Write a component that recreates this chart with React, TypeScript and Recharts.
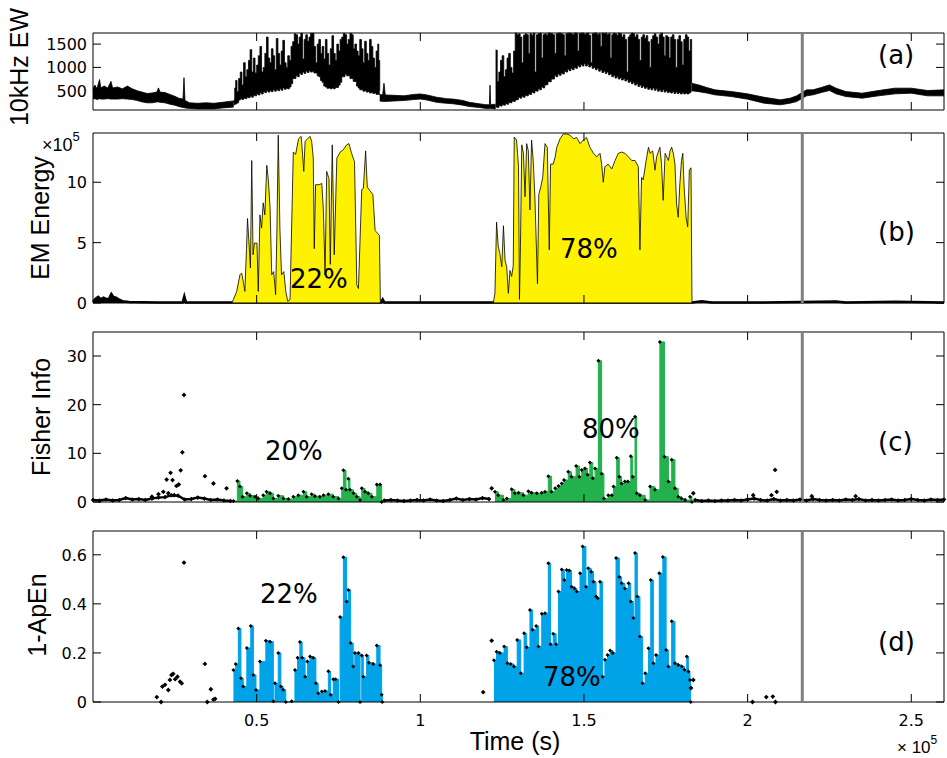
import React from 'react';
import { ComposedChart, Area, Line, XAxis, YAxis, ReferenceLine, ReferenceArea } from 'recharts';

// time is in units of 1e5 s, like the figure's axis
const W = 947;
const H = 758;
const PLOT_L = 93;
const PLOT_R = 944;
const Y_AXIS_W = 60;
const X_AXIS_H = 20;
const TICK = 8;
const NUM_FONT = '"DejaVu Sans", sans-serif';
const TITLE_FONT = '"Liberation Sans", Arial, sans-serif';

const YELLOW = '#fff200';
const GREEN = '#22b14c';
const BLUE = '#00a2e8';
const GRAY = '#7f7f7f';

const T_MAX = 2.6;
const X_TICKS = [0.5, 1, 1.5, 2, 2.5];
const MARKER_T = 2.167;

const EW_TICKS = [500, 1000, 1500];
const EM_TICKS = [0, 5, 10];
const FI_TICKS = [0, 10, 20, 30];
const AP_TICKS = [0, 0.2, 0.4, 0.6];

const TITLES = ['10kHz EW', 'EM Energy', 'Fisher Info', '1-ApEn'];
const TAGS = ['(a)', '(b)', '(c)', '(d)'];
const EM_SHARES = ['22%', '78%'];
const FI_SHARES = ['20%', '80%'];
const AP_SHARES = ['22%', '78%'];

// (a) 10 kHz EW signal, envelope [t, low, high]
const ewQuiet1: [number, number, number][] = [
  [0.000, 320, 550], [0.006, 330, 620], [0.012, 310, 540], [0.020, 330, 740], [0.024, 320, 560],
  [0.034, 320, 600], [0.045, 330, 560], [0.055, 320, 700], [0.060, 320, 560], [0.075, 320, 580],
  [0.090, 330, 540], [0.105, 320, 600], [0.120, 310, 540], [0.135, 290, 500], [0.150, 260, 470],
  [0.165, 240, 440], [0.180, 240, 450], [0.195, 260, 470], [0.200, 260, 560], [0.205, 250, 470],
  [0.220, 240, 460], [0.235, 210, 420], [0.250, 190, 380], [0.262, 160, 340], [0.275, 140, 320],
  [0.278, 140, 780], [0.281, 130, 290], [0.295, 120, 240], [0.320, 110, 230], [0.345, 110, 240],
  [0.370, 110, 230], [0.395, 130, 250], [0.415, 140, 270], [0.430, 150, 280],
];
const ewActive1: [number, number, number][] = [
  [0.430, 200, 300], [0.433, 210, 560], [0.436, 220, 720], [0.440, 240, 480], [0.445, 300, 760],
  [0.450, 330, 900], [0.455, 310, 620], [0.460, 340, 1100], [0.465, 330, 800], [0.470, 360, 950],
  [0.475, 350, 1150], [0.480, 380, 1380], [0.485, 360, 900], [0.490, 400, 1200], [0.495, 390, 880],
  [0.500, 430, 1050], [0.505, 410, 1250], [0.510, 460, 1450], [0.515, 430, 900], [0.520, 480, 1000],
  [0.525, 460, 1300], [0.530, 500, 1650], [0.535, 470, 1200], [0.540, 500, 1100], [0.545, 480, 1400],
  [0.550, 520, 1250], [0.555, 490, 950], [0.560, 520, 1620], [0.565, 500, 1300], [0.570, 540, 1050],
  [0.575, 510, 1350], [0.580, 560, 1580], [0.585, 530, 1100], [0.590, 550, 1000], [0.595, 540, 1250],
  [0.600, 580, 1150], [0.605, 650, 1450], [0.610, 760, 1550], [0.615, 760, 1720], [0.620, 820, 1700],
  [0.625, 800, 1500], [0.630, 880, 1650], [0.635, 850, 1730], [0.640, 900, 1180], [0.645, 870, 1600],
  [0.650, 920, 1700], [0.655, 890, 1560], [0.660, 930, 1650], [0.665, 900, 1730], [0.670, 920, 1730],
  [0.675, 880, 1450], [0.680, 880, 1100], [0.685, 820, 1500], [0.690, 800, 1600], [0.695, 720, 1300],
  [0.700, 680, 1450], [0.705, 600, 1180], [0.710, 580, 1600], [0.715, 550, 1300], [0.720, 560, 1050],
  [0.725, 540, 1400], [0.730, 560, 1680], [0.735, 540, 1300], [0.740, 570, 1150], [0.745, 570, 1500],
  [0.750, 620, 1350], [0.755, 680, 1600], [0.760, 800, 1650], [0.765, 800, 1730], [0.770, 860, 1700],
  [0.775, 820, 1500], [0.780, 820, 1600], [0.785, 760, 1730], [0.790, 760, 1700], [0.795, 700, 1400],
  [0.800, 700, 1500], [0.805, 600, 1350], [0.810, 560, 1250], [0.815, 520, 1600], [0.820, 520, 1400],
  [0.825, 490, 1100], [0.830, 500, 1560], [0.835, 470, 1300], [0.840, 480, 1150], [0.845, 450, 1600],
  [0.850, 460, 1450], [0.855, 440, 1200], [0.860, 450, 1000], [0.865, 420, 1350], [0.870, 430, 1500],
  [0.873, 420, 1150], [0.876, 430, 500],
];
const ewQuiet2: [number, number, number][] = [
  [0.876, 280, 420], [0.885, 270, 410], [0.889, 270, 660], [0.893, 270, 410], [0.920, 280, 400],
  [0.950, 290, 390], [0.980, 310, 420], [1.000, 320, 430], [1.020, 300, 410], [1.050, 250, 360],
  [1.080, 230, 330], [1.100, 220, 320], [1.130, 190, 290], [1.150, 160, 250], [1.180, 140, 220],
  [1.200, 120, 200], [1.211, 120, 200], [1.213, 120, 620], [1.215, 120, 200], [1.230, 110, 210],
];
const ewActive2: [number, number, number][] = [
  [1.230, 150, 1370], [1.235, 140, 700], [1.240, 180, 900], [1.245, 170, 1150], [1.250, 200, 1250],
  [1.255, 190, 800], [1.260, 220, 950], [1.265, 210, 1200], [1.270, 250, 1300], [1.275, 240, 1000],
  [1.280, 280, 880], [1.285, 270, 1350], [1.290, 300, 1735], [1.295, 310, 1700], [1.300, 360, 1720],
  [1.305, 340, 1650], [1.310, 380, 1100], [1.315, 360, 1690], [1.320, 400, 1720], [1.325, 390, 1700],
  [1.330, 430, 1300], [1.335, 420, 1720], [1.340, 470, 1690], [1.345, 450, 1735], [1.350, 500, 900],
  [1.355, 490, 1700], [1.360, 540, 1720], [1.365, 520, 1735], [1.370, 580, 1200], [1.375, 560, 1700],
  [1.380, 620, 1720], [1.385, 630, 1690], [1.390, 700, 1735], [1.395, 690, 1735], [1.400, 750, 1720],
  [1.405, 750, 1700], [1.410, 820, 1300], [1.415, 800, 1720], [1.420, 860, 1735], [1.425, 830, 1735],
  [1.430, 880, 1720], [1.435, 860, 1700], [1.440, 920, 1250], [1.445, 900, 1720], [1.450, 960, 1735],
  [1.455, 930, 1735], [1.460, 980, 1720], [1.465, 950, 1700], [1.470, 1000, 1735], [1.475, 980, 1735],
  [1.480, 1040, 1350], [1.485, 1010, 1720], [1.490, 1060, 1735], [1.495, 1030, 1735], [1.500, 1080, 1700],
  [1.505, 1030, 1720], [1.510, 1060, 1735], [1.515, 1010, 1690], [1.520, 1040, 1100], [1.525, 980, 1720],
  [1.530, 1000, 1735], [1.535, 950, 1735], [1.540, 980, 1700], [1.545, 920, 1720], [1.550, 950, 1450],
  [1.555, 890, 1735], [1.560, 920, 1720], [1.565, 870, 1735], [1.570, 900, 1700], [1.575, 840, 1720],
  [1.580, 860, 1200], [1.585, 800, 1700], [1.590, 830, 1735], [1.595, 770, 1720], [1.600, 800, 1690],
  [1.605, 750, 1735], [1.610, 780, 1720], [1.615, 730, 1650], [1.620, 760, 1700], [1.625, 710, 1600],
  [1.630, 740, 900], [1.635, 680, 1650], [1.640, 700, 1700], [1.645, 650, 1735], [1.650, 680, 1720],
  [1.655, 620, 1650], [1.660, 650, 1700], [1.665, 590, 1600], [1.670, 620, 1150], [1.675, 570, 1650],
  [1.680, 600, 1700], [1.685, 550, 1620], [1.690, 580, 1680], [1.695, 530, 1550], [1.700, 560, 1000],
  [1.705, 520, 1600], [1.710, 560, 1680], [1.715, 510, 1720], [1.720, 540, 1650], [1.725, 490, 1500],
  [1.730, 520, 1700], [1.735, 480, 1735], [1.740, 520, 1650], [1.745, 470, 1250], [1.750, 500, 1680],
  [1.755, 460, 1650], [1.760, 480, 1200], [1.765, 450, 1650], [1.770, 480, 1700], [1.775, 440, 1600],
  [1.780, 470, 1000], [1.785, 440, 1600], [1.790, 460, 1680], [1.795, 430, 1550], [1.800, 460, 1050],
  [1.805, 430, 1600], [1.810, 450, 1700], [1.815, 430, 1650], [1.820, 450, 1350], [1.825, 480, 1600],
  [1.829, 480, 660],
];
const ewQuiet3: [number, number, number][] = [
  [1.829, 500, 660], [1.850, 480, 625], [1.875, 450, 570], [1.900, 411, 518], [1.950, 375, 482],
  [2.000, 318, 432], [2.050, 233, 360], [2.100, 197, 304], [2.130, 233, 340], [2.150, 268, 390],
  [2.180, 390, 518], [2.200, 411, 518], [2.225, 460, 570], [2.250, 504, 625], [2.270, 432, 554],
  [2.300, 375, 482], [2.350, 340, 447], [2.400, 390, 504], [2.450, 432, 554], [2.500, 447, 554],
  [2.550, 390, 504], [2.600, 390, 518],
];
const EW_SEGMENTS = [ewQuiet1, ewActive1, ewQuiet2, ewActive2, ewQuiet3];

// (b) EM energy, [t, value x1e5]
const emQuiet: [number, number][] = [
  [0, 0.1], [0.008, 0.35], [0.016, 0.5], [0.024, 0.3], [0.032, 0.45], [0.04, 0.35], [0.048, 0.3],
  [0.056, 0.75], [0.062, 0.5], [0.07, 0.45], [0.078, 0.3], [0.09, 0.15], [0.11, 0.08], [0.2, 0.05],
  [0.274, 0.05], [0.279, 0.55], [0.284, 0.05], [0.43, 0.05], [0.88, 0.05], [0.885, 0.3], [0.89, 0.05],
  [1.22, 0.05], [1.83, 0.05], [1.86, 0.15], [1.89, 0.05], [2.05, 0.05], [2.27, 0.12], [2.3, 0.05],
  [2.45, 0.1], [2.6, 0.05],
];
const emActive1: [number, number][] = [
  [0.424, 0], [0.429, 0.28], [0.439, 0.96], [0.449, 2.34], [0.454, 2.48], [0.459, 1.79], [0.464, 0.96],
  [0.469, 4.5], [0.472, 7.0], [0.477, 4.8], [0.481, 2.9], [0.485, 11.8], [0.489, 4.0], [0.493, 4.96],
  [0.501, 4.96], [0.505, 0.96], [0.51, 7.3], [0.515, 6.2], [0.52, 8.3], [0.525, 7.3], [0.531, 11.4],
  [0.536, 10.1], [0.541, 7.9], [0.546, 2.34], [0.552, 2.6], [0.558, 0.69], [0.562, 6.2], [0.566, 13.9],
  [0.571, 6.2], [0.576, 2.34], [0.583, 2.6], [0.589, 0.96], [0.595, 0.14], [0.602, 0.28], [0.605, 4.0],
  [0.612, 12.5], [0.619, 12.3], [0.628, 13.6], [0.636, 13.8], [0.64, 12.4], [0.644, 10.9], [0.648, 13.4],
  [0.656, 13.6], [0.663, 13.8], [0.668, 13.4], [0.673, 12.0], [0.676, 4.5], [0.68, 9.8], [0.691, 9.8],
  [0.699, 9.9], [0.704, 7.6], [0.709, 2.34], [0.714, 10.9], [0.721, 10.3], [0.725, 3.2], [0.731, 13.1],
  [0.737, 4.0], [0.745, 12.0], [0.755, 12.5], [0.765, 12.7], [0.775, 13.1], [0.782, 13.2], [0.79, 12.4],
  [0.799, 11.7], [0.806, 1.5], [0.811, 1.2], [0.821, 9.4], [0.826, 9.5], [0.833, 12.6], [0.838, 9.6],
  [0.846, 9.3], [0.855, 9.0], [0.862, 6.0], [0.875, 5.6], [0.878, 0],
];
const emActive2: [number, number][] = [
  [1.223, 0], [1.228, 0.8], [1.233, 6.7], [1.238, 4.7], [1.243, 4.1], [1.249, 3.0], [1.254, 6.4],
  [1.259, 3.5], [1.264, 3.0], [1.269, 0.8], [1.274, 2.7], [1.279, 2.2], [1.284, 3.1], [1.287, 13.75],
  [1.294, 13.5], [1.3, 11.3], [1.303, 0.3], [1.306, 4.7], [1.31, 13.1], [1.315, 12.4], [1.32, 8.8],
  [1.325, 13.2], [1.33, 12.6], [1.335, 7.7], [1.34, 13.5], [1.345, 11.8], [1.35, 8.8], [1.358, 1.6],
  [1.362, 9.0], [1.368, 9.6], [1.374, 10.4], [1.381, 13.2], [1.388, 12.9], [1.394, 4.4], [1.398, 11.5],
  [1.406, 11.5], [1.412, 12.1], [1.417, 12.9], [1.427, 13.6], [1.437, 14.0], [1.447, 14.0], [1.457, 13.9],
  [1.468, 13.6], [1.478, 13.7], [1.488, 13.2], [1.498, 13.5], [1.508, 13.7], [1.518, 12.9], [1.529, 12.4],
  [1.539, 12.1], [1.549, 12.4], [1.554, 11.5], [1.559, 10.0], [1.564, 11.3], [1.574, 11.5], [1.585, 11.1],
  [1.595, 11.8], [1.605, 12.4], [1.615, 12.5], [1.625, 12.4], [1.636, 12.1], [1.646, 11.8], [1.656, 11.8],
  [1.666, 11.3], [1.671, 4.4], [1.676, 10.4], [1.681, 10.2], [1.69, 11.8], [1.697, 12.9], [1.702, 12.4],
  [1.71, 12.6], [1.717, 11.0], [1.722, 12.1], [1.732, 12.9], [1.737, 11.5], [1.742, 8.5], [1.748, 12.4],
  [1.758, 11.8], [1.763, 12.6], [1.768, 12.9], [1.773, 12.4], [1.778, 11.5], [1.783, 8.2], [1.788, 7.1],
  [1.793, 9.9], [1.798, 11.8], [1.802, 12.4], [1.806, 9.6], [1.812, 7.1], [1.817, 6.3], [1.822, 11.0],
  [1.827, 11.2], [1.83, 0],
];

// (c) Fisher information, [t, value]
const fiQuiet1: [number, number][] = [
  [0, 0.4], [0.02, 0.3], [0.04, 0.5], [0.06, 0.3], [0.08, 0.4], [0.1, 0.8], [0.12, 0.5], [0.14, 0.6],
  [0.16, 0.4], [0.18, 0.7], [0.2, 0.9], [0.22, 1.0], [0.24, 1.4], [0.26, 1.3], [0.28, 0.5], [0.3, 0.6],
  [0.32, 0.9], [0.34, 0.7], [0.36, 0.4], [0.38, 0.5], [0.4, 0.3], [0.42, 0.2],
];
const fiQuiet2: [number, number][] = [
  [0.89, 0.3], [0.91, 0.4], [0.93, 0.3], [0.95, 0.2], [0.97, 0.3], [0.99, 0.4], [1.01, 0.3], [1.03, 0.5],
  [1.05, 0.3], [1.07, 0.2], [1.09, 0.4], [1.11, 0.7], [1.13, 0.4], [1.15, 0.6], [1.17, 0.5], [1.19, 0.8],
  [1.21, 0.6],
];
const fiQuiet3: [number, number][] = [
  [1.84, 0.4], [1.86, 0.2], [1.88, 0.3], [1.9, 0.2], [1.92, 0.3], [1.94, 0.3], [1.96, 0.4], [1.98, 0.3],
  [2.0, 0.5], [2.02, 0.7], [2.04, 0.4], [2.06, 0.3], [2.08, 0.6], [2.1, 0.3], [2.12, 0.4], [2.14, 0.3],
  [2.16, 0.5], [2.18, 0.3], [2.2, 0.6], [2.22, 0.4], [2.24, 0.3], [2.26, 0.4], [2.28, 0.3], [2.3, 0.5],
  [2.32, 0.4], [2.34, 0.6], [2.36, 0.3], [2.38, 0.4], [2.4, 0.3], [2.42, 0.4], [2.44, 0.5], [2.46, 0.3],
  [2.48, 0.4], [2.5, 0.6], [2.52, 0.4], [2.54, 0.3], [2.56, 0.5], [2.58, 0.4], [2.6, 0.5],
];
const fiScatter: [number, number][] = [
  [0.18, 1.1], [0.2, 1.6], [0.215, 2.1], [0.225, 4.6], [0.23, 1.8], [0.237, 6.0], [0.243, 4.5],
  [0.248, 1.4], [0.255, 3.3], [0.262, 3.6], [0.268, 6.5], [0.273, 10.2], [0.278, 22.0], [0.342, 5.3],
  [0.368, 3.8], [0.408, 2.8], [1.218, 2.8], [1.834, 1.8], [2.017, 1.4], [2.073, 1.4], [2.084, 6.6],
  [2.089, 2.1], [2.196, 1.2], [2.33, 1.2],
];
const fiActive1: [number, number][] = [
  [0.429, 0.2], [0.441, 4.3], [0.449, 3.2], [0.457, 1.1], [0.47, 1.8], [0.48, 1.3], [0.495, 1.1],
  [0.505, 0.7], [0.52, 1.4], [0.53, 2.1], [0.541, 1.8], [0.551, 0.7], [0.566, 1.3], [0.582, 0.7],
  [0.597, 0.6], [0.612, 1.1], [0.627, 1.4], [0.643, 2.1], [0.653, 1.1], [0.668, 1.6], [0.678, 1.2],
  [0.693, 1.1], [0.704, 1.4], [0.719, 1.6], [0.734, 1.1], [0.75, 0.7], [0.76, 2.8], [0.765, 6.5],
  [0.773, 2.5], [0.78, 4.8], [0.785, 2.5], [0.796, 1.8], [0.806, 1.1], [0.816, 0.4], [0.821, 2.8],
  [0.831, 2.1], [0.841, 1.8], [0.852, 1.1], [0.867, 3.6], [0.877, 3.6], [0.882, 0],
];
const fiActive2: [number, number][] = [
  [1.228, 2.1], [1.238, 1.4], [1.254, 0.4], [1.264, 0.7], [1.279, 2.6], [1.289, 1.8], [1.3, 1.9],
  [1.315, 1.4], [1.33, 2.2], [1.34, 1.9], [1.356, 1.8], [1.371, 1.9], [1.381, 2.1], [1.391, 5.3],
  [1.401, 2.1], [1.412, 2.8], [1.422, 3.3], [1.432, 3.8], [1.439, 4.5], [1.452, 6.2], [1.462, 5.2],
  [1.476, 7.4], [1.486, 5.2], [1.493, 6.6], [1.503, 6.9], [1.511, 5.6], [1.518, 8.1], [1.527, 4.9],
  [1.534, 6.9], [1.544, 29.0], [1.554, 5.8], [1.561, 0.7], [1.574, 1.4], [1.585, 1.4], [1.59, 3.2],
  [1.6, 9.1], [1.608, 5.2], [1.615, 3.8], [1.625, 4.2], [1.634, 4.2], [1.643, 9.4], [1.649, 5.2],
  [1.656, 17.5], [1.661, 1.8], [1.671, 1.4], [1.687, 0.4], [1.702, 3.2], [1.717, 2.5], [1.732, 32.9],
  [1.746, 9.3], [1.758, 4.2], [1.768, 8.7], [1.778, 2.8], [1.788, 1.1], [1.798, 0.7], [1.809, 0.4],
  [1.824, 1.1], [1.83, 0],
];

// (d) 1 - approximate entropy, [t, value]
const apScatter: [number, number][] = [
  [0.195, 0.02], [0.208, 0.0], [0.212, 0.063], [0.22, 0.07], [0.23, 0.049], [0.235, 0.09], [0.24, 0.11],
  [0.245, 0.115], [0.251, 0.093], [0.258, 0.103], [0.266, 0.083], [0.271, 0.076], [0.278, 0.568],
  [0.342, 0.155], [0.349, 0.0], [0.36, 0.052], [0.368, 0.01], [0.373, 0.013], [1.192, 0.04],
  [1.218, 0.25], [1.827, 0.057], [1.834, 0.09], [2.015, 0.0], [2.057, 0.02], [2.077, 0.022], [2.085, 0.0],
];
const apActive1: [number, number][] = [
  [0.429, 0.13], [0.436, 0.155], [0.444, 0.3], [0.452, 0.097], [0.459, 0.063], [0.47, 0.22], [0.482, 0.31],
  [0.49, 0.11], [0.498, 0.049], [0.51, 0.165], [0.528, 0.25], [0.541, 0.246], [0.551, 0.003], [0.556, 0.076],
  [0.566, 0.2], [0.574, 0.063], [0.581, 0.05], [0.589, 0.0], [0.607, 0.003], [0.617, 0.13], [0.625, 0.18],
  [0.632, 0.245], [0.639, 0.18], [0.648, 0.103], [0.655, 0.165], [0.663, 0.185], [0.673, 0.18],
  [0.681, 0.076], [0.688, 0.036], [0.699, 0.043], [0.709, 0.045], [0.719, 0.125], [0.726, 0.03],
  [0.734, 0.093], [0.741, 0.093], [0.75, 0.0], [0.755, 0.346], [0.765, 0.59], [0.775, 0.41], [0.78, 0.457],
  [0.787, 0.24], [0.795, 0.145], [0.8, 0.2], [0.811, 0.2], [0.816, 0.0], [0.821, 0.19], [0.826, 0.103],
  [0.836, 0.19], [0.843, 0.16], [0.856, 0.155], [0.867, 0.23], [0.877, 0.15], [0.882, 0.03], [0.884, 0],
];
const apActive2: [number, number][] = [
  [1.225, 0.17], [1.233, 0.205], [1.243, 0.2], [1.256, 0.226], [1.266, 0.158], [1.276, 0.155], [1.286, 0.145],
  [1.296, 0.253], [1.307, 0.117], [1.317, 0.28], [1.325, 0.223], [1.335, 0.375], [1.343, 0.294], [1.354, 0.31],
  [1.361, 0.226], [1.371, 0.36], [1.381, 0.362], [1.391, 0.566], [1.398, 0.235], [1.406, 0.278], [1.415, 0.235],
  [1.422, 0.45], [1.432, 0.54], [1.44, 0.497], [1.447, 0.538], [1.455, 0.536], [1.462, 0.47], [1.471, 0.463],
  [1.478, 0.45], [1.488, 0.525], [1.496, 0.634], [1.506, 0.47], [1.513, 0.545], [1.522, 0.531], [1.529, 0.49],
  [1.537, 0.43], [1.542, 0.423], [1.549, 0.49], [1.557, 0.103], [1.564, 0.172], [1.572, 0.192], [1.58, 0.21],
  [1.588, 0.2], [1.598, 0.587], [1.608, 0.51], [1.615, 0.484], [1.625, 0.463], [1.636, 0.484], [1.643, 0.41],
  [1.651, 0.342], [1.656, 0.607], [1.663, 0.43], [1.671, 0.267], [1.679, 0.076], [1.687, 0.117], [1.697, 0.219],
  [1.704, 0.497], [1.712, 0.158], [1.72, 0.192], [1.73, 0.525], [1.741, 0.591], [1.751, 0.212], [1.758, 0.145],
  [1.768, 0.329], [1.778, 0.158], [1.788, 0.151], [1.799, 0.145], [1.807, 0.131], [1.814, 0.185], [1.819, 0.124],
  [1.824, 0.09], [1.826, 0],
];

const pts = (a: [number, number][]) => a.map(([t, v]) => ({ t, v }));
const bands = (a: [number, number, number][]) => a.map(([t, lo, hi]) => ({ t, r: [lo, hi] }));

type Spec = { top: number; bottom: number; domain: [number, number]; ticks: number[]; xLabels: boolean };
const SPEC_A: Spec = { top: 33, bottom: 110, domain: [86, 1738], ticks: EW_TICKS, xLabels: false };
const SPEC_B: Spec = { top: 133, bottom: 303, domain: [0, 14.08], ticks: EM_TICKS, xLabels: false };
const SPEC_C: Spec = { top: 332, bottom: 502, domain: [0, 34.93], ticks: FI_TICKS, xLabels: false };
const SPEC_D: Spec = { top: 531, bottom: 702, domain: [0, 0.697], ticks: AP_TICKS, xLabels: true };

const diamond = (r: number) => (p: any) => {
  const { cx, cy, index } = p;
  if (cx == null || cy == null || Number.isNaN(cy)) return <g key={`d${index}`} />;
  return <path key={`d${index}`} d={`M${cx},${cy - r}L${cx + r},${cy}L${cx},${cy + r}L${cx - r},${cy}Z`} fill="#000" />;
};

const xTick = (s: Spec) => (p: any) => (
  <g>
    <line x1={p.x} x2={p.x} y1={s.bottom} y2={s.bottom - TICK} stroke="#000" />
    <line x1={p.x} x2={p.x} y1={s.top} y2={s.top + TICK} stroke="#000" />
    {s.xLabels && (
      <text x={p.x} y={s.bottom + 24} textAnchor="middle" fontFamily={NUM_FONT} fontSize={16} fill="#000">
        {p.payload.value}
      </text>
    )}
  </g>
);

const yTick = (s: Spec) => (p: any) => (
  <g>
    <line x1={PLOT_L} x2={PLOT_L + TICK} y1={p.y} y2={p.y} stroke="#000" />
    <line x1={PLOT_R - TICK} x2={PLOT_R} y1={p.y} y2={p.y} stroke="#000" />
    <text x={PLOT_L - 6} y={p.y + 6} textAnchor="end" fontFamily={NUM_FONT} fontSize={16} fill="#000">
      {p.payload.value}
    </text>
  </g>
);

function panel(s: Spec, series: React.ReactNode) {
  return (
    <div style={{ position: 'absolute', left: 0, top: 0 }}>
      <ComposedChart
        width={W}
        height={H}
        margin={{ top: s.top, right: W - PLOT_R, bottom: H - s.bottom - X_AXIS_H, left: PLOT_L - Y_AXIS_W }}
      >
        <XAxis type="number" dataKey="t" domain={[0, T_MAX]} ticks={X_TICKS} interval={0} height={X_AXIS_H}
          axisLine={false} tickLine={false} tick={xTick(s)} />
        <YAxis type="number" domain={s.domain} ticks={s.ticks} interval={0} width={Y_AXIS_W}
          axisLine={false} tickLine={false} tick={yTick(s)} />
        {series}
        <ReferenceLine x={MARKER_T} stroke={GRAY} strokeWidth={3} />
        <ReferenceArea x1={0} x2={T_MAX} y1={s.domain[0]} y2={s.domain[1]} fill="none" stroke="#000"
          strokeWidth={1} ifOverflow="visible" />
      </ComposedChart>
    </div>
  );
}

const Label = ({ x, y, text, size = 26 }: { x: number; y: number; text: string; size?: number }) => (
  <text x={x} y={y} fontFamily={NUM_FONT} fontSize={size} fill="#000">{text}</text>
);

const VTitle = ({ x, y, text }: { x: number; y: number; text: string }) => (
  <text transform={`translate(${x},${y}) rotate(-90)`} textAnchor="middle" fontFamily={TITLE_FONT} fontSize={25} fill="#000">
    {text}
  </text>
);

export default function App() {
  return (
    <div style={{ position: 'absolute', left: 0, top: 0, width: W, height: H, background: '#fff' }}>
      {panel(SPEC_A, EW_SEGMENTS.map((seg, i) => (
        <Area key={`ew${i}`} data={bands(seg)} dataKey="r" type={i % 2 ? 'stepAfter' : 'linear'} fill="#000"
          fillOpacity={1} stroke="#000" strokeWidth={0.8} dot={false} activeDot={false} isAnimationActive={false} />
      )))}
      {panel(SPEC_B, [
        <Area key="base" data={pts(emQuiet)} dataKey="v" type="linear" fill="#000" fillOpacity={1} stroke="#000"
          strokeWidth={2.5} dot={false} activeDot={false} isAnimationActive={false} />,
        <Area key="e1" data={pts(emActive1)} dataKey="v" type="linear" fill={YELLOW} fillOpacity={1} stroke="#000"
          strokeWidth={0.8} dot={false} activeDot={false} isAnimationActive={false} />,
        <Area key="e2" data={pts(emActive2)} dataKey="v" type="linear" fill={YELLOW} fillOpacity={1} stroke="#000"
          strokeWidth={0.8} dot={false} activeDot={false} isAnimationActive={false} />,
      ])}
      {panel(SPEC_C, [
        ...[fiQuiet1, fiQuiet2, fiQuiet3].map((seg, i) => (
          <Line key={`q${i}`} data={pts(seg)} dataKey="v" type="linear" stroke="#000" strokeWidth={2.5}
            dot={diamond(2.3)} activeDot={false} isAnimationActive={false} />
        )),
        <Area key="f1" data={pts(fiActive1)} dataKey="v" type="stepAfter" fill={GREEN} fillOpacity={1} stroke={GREEN}
          strokeWidth={1} dot={diamond(2)} activeDot={false} isAnimationActive={false} />,
        <Area key="f2" data={pts(fiActive2)} dataKey="v" type="stepAfter" fill={GREEN} fillOpacity={1} stroke={GREEN}
          strokeWidth={1} dot={diamond(2)} activeDot={false} isAnimationActive={false} />,
        <Line key="fs" data={pts(fiScatter)} dataKey="v" stroke="none" dot={diamond(2.4)} activeDot={false}
          isAnimationActive={false} />,
      ])}
      {panel(SPEC_D, [
        <Area key="a1" data={pts(apActive1)} dataKey="v" type="stepAfter" fill={BLUE} fillOpacity={1} stroke={BLUE}
          strokeWidth={1} dot={diamond(2)} activeDot={false} isAnimationActive={false} />,
        <Area key="a2" data={pts(apActive2)} dataKey="v" type="stepAfter" fill={BLUE} fillOpacity={1} stroke={BLUE}
          strokeWidth={1} dot={diamond(2)} activeDot={false} isAnimationActive={false} />,
        <Line key="as" data={pts(apScatter)} dataKey="v" stroke="none" dot={diamond(2.4)} activeDot={false}
          isAnimationActive={false} />,
      ])}
      <svg width={W} height={H} style={{ position: 'absolute', left: 0, top: 0, pointerEvents: 'none' }}>
        <VTitle x={28} y={67} text={TITLES[0]} />
        <VTitle x={49} y={218} text={TITLES[1]} />
        <VTitle x={50} y={417} text={TITLES[2]} />
        <VTitle x={46} y={615} text={TITLES[3]} />
        <text x={42} y={151} fontFamily={TITLE_FONT} fontSize={18} fill="#000">
          ×10<tspan dy={-10} fontSize={13}>5</tspan>
        </text>
        <text x={897} y={753} fontFamily={TITLE_FONT} fontSize={17} fill="#000">
          × 10<tspan dy={-9} fontSize={12}>5</tspan>
        </text>
        <text x={515} y={750} textAnchor="middle" fontFamily={TITLE_FONT} fontSize={25} fill="#000">Time (s)</text>
        <Label x={878} y={64} text={TAGS[0]} />
        <Label x={878} y={241} text={TAGS[1]} />
        <Label x={878} y={451} text={TAGS[2]} />
        <Label x={878} y={651} text={TAGS[3]} />
        <Label x={290} y={288} text={EM_SHARES[0]} />
        <Label x={560} y={258} text={EM_SHARES[1]} />
        <Label x={265} y={460} text={FI_SHARES[0]} />
        <Label x={582} y={438} text={FI_SHARES[1]} />
        <Label x={260} y={603} text={AP_SHARES[0]} />
        <Label x={543} y={686} text={AP_SHARES[1]} />
      </svg>
    </div>
  );
}
